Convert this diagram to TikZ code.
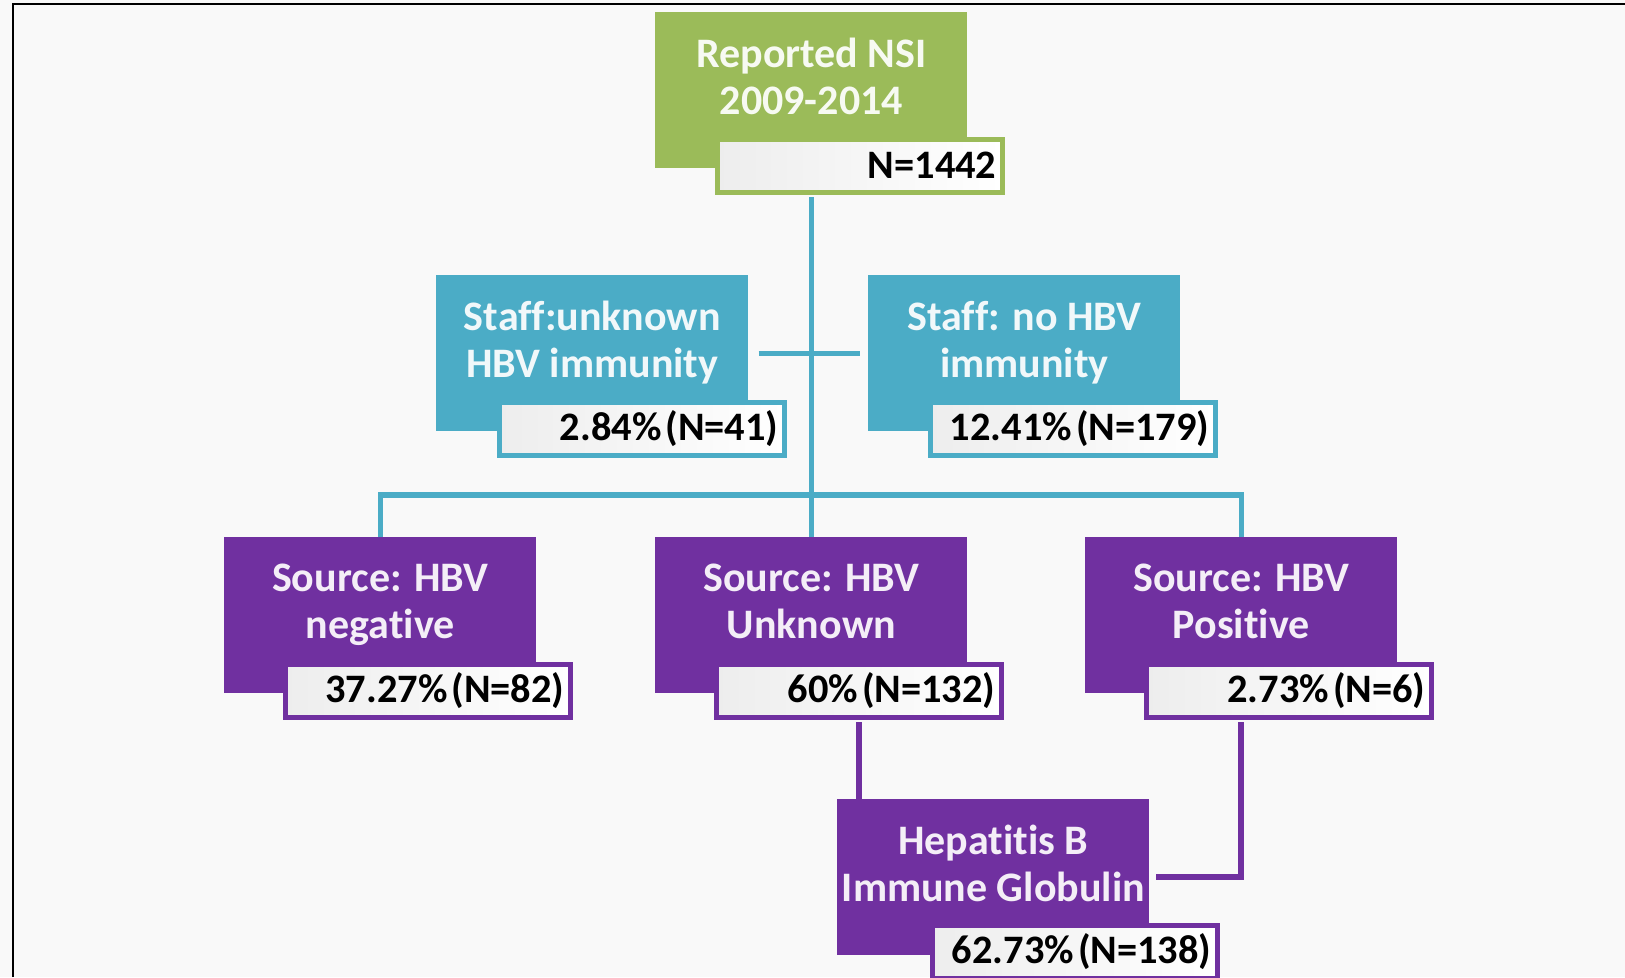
\documentclass[tikz,border=0pt]{standalone}
\usepackage{fontspec}
\setmainfont{Carlito}[Ligatures=NoCommon]
\usetikzlibrary{positioning,calc}
\definecolor{nsigreen}{HTML}{9BBB59}
\definecolor{staffblue}{HTML}{4BACC6}
\definecolor{srcpurple}{HTML}{7030A0}
\definecolor{pagegray}{HTML}{F9F9F9}

\begin{document}
\begin{tikzpicture}[x=0.02cm,y=-0.02cm,
    boxfont/.style={font=\fontsize{23.9}{26.8}\selectfont\bfseries},
    catbox/.style={boxfont,anchor=north west,fill=#1,text=white!92!#1,
      minimum width=6.24cm,minimum height=3.12cm,inner xsep=0pt,
      align=center,text depth=0.57cm},
    numbox/.style={font=\fontsize{23}{26}\selectfont\bfseries,anchor=north west,
      draw=#1,line width=0.1cm,
      left color=black!7,right color=white,text=black,
      minimum width=5.7cm,minimum height=1.06cm,text width=5.46cm,
      inner xsep=0.12cm,align=right,
      execute at begin node={\spaceskip=0.1em\relax}},
    bline/.style={staffblue,line width=0.11cm},
    pline/.style={srcpurple,line width=0.12cm}]
    \fill [pagegray] (0,0) rectangle (1625,977);
    \useasboundingbox (0,0) rectangle (1625,977);
    \draw [black,line width=0.06cm] (13,977) -- (13,4) -- (1625,4);

    \node [catbox=nsigreen] (nsi) at (655,12) {Reported NSI\\2009-2014};
    \node [numbox=nsigreen] (nsiN) at ([xshift=1.2cm,yshift=0.64cm]nsi.south west) {N=1442};

    \node [catbox=staffblue] (unk) at (436,275) {Staff:unknown\\HBV immunity};
    \node [numbox=staffblue] (unkN) at ([xshift=1.22cm,yshift=0.64cm]unk.south west) {2.84\%~(N=41)};
    \node [catbox=staffblue] (nohbv) at (868,275) {Staff: no HBV\\immunity};
    \node [numbox=staffblue] (nohbvN) at ([xshift=1.2cm,yshift=0.64cm]nohbv.south west) {12.41\%~(N=179)};

    \node [catbox=srcpurple] (neg) at (224,537) {Source: HBV\\negative};
    \node [numbox=srcpurple] (negN) at ([xshift=1.18cm,yshift=0.64cm]neg.south west) {37.27\%~(N=82)};
    \node [catbox=srcpurple] (unkn) at (655,537) {Source: HBV\\Unknown};
    \node [numbox=srcpurple] (unknN) at ([xshift=1.18cm,yshift=0.64cm]unkn.south west) {60\%~(N=132)};
    \node [catbox=srcpurple] (pos) at (1085,537) {Source: HBV\\Positive};
    \node [numbox=srcpurple] (posN) at ([xshift=1.18cm,yshift=0.64cm]pos.south west) {2.73\%~(N=6)};

    \node [catbox=srcpurple] (hbig) at (837,799) {Hepatitis B\\Immune Globulin};
    \node [numbox=srcpurple] (hbigN) at ([xshift=1.86cm,yshift=0.66cm]hbig.south west) {62.73\%~(N=138)};

    \coordinate (bar) at (811,495);
    \draw [bline,shorten <=0.05cm] (nsi.south |- nsiN.south) -- (unkn.north);
    \draw [bline,shorten <=0.2cm,shorten >=0.16cm] (unk.east) -- (nohbv.west);
    \draw [bline] (neg.north) |- (bar) -| (pos.north);
    \draw [pline,shorten <=0.05cm] (unknN.south) -- (unknN.south |- hbig.north);
    \draw [pline,shorten <=0.05cm] (pos.south |- posN.south) |- ([xshift=0.12cm]hbig.east);
\end{tikzpicture}
\end{document}
